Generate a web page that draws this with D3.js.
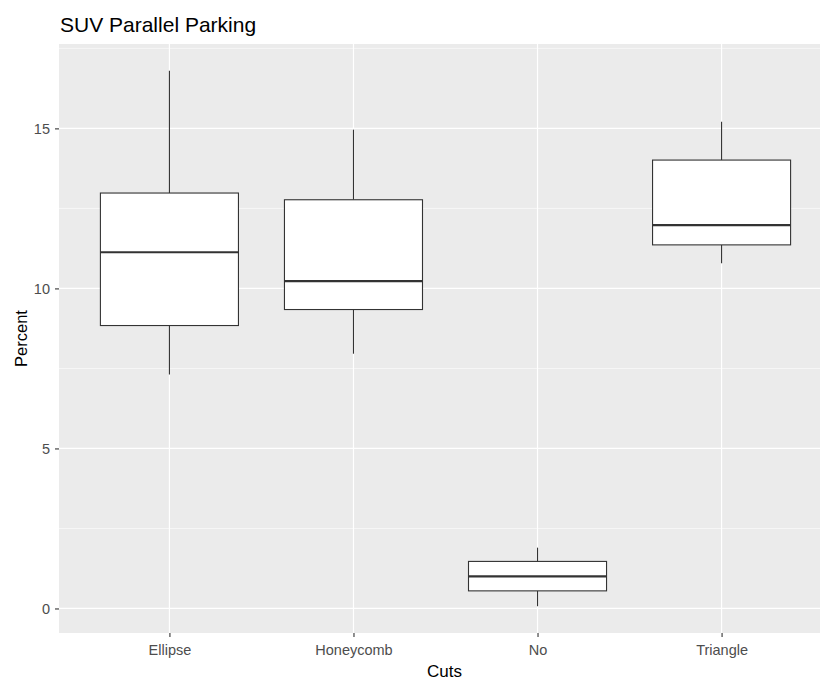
<!DOCTYPE html>
<html>
<head>
<meta charset="utf-8">
<script src="https://cdn.jsdelivr.net/npm/d3@7"></script>
<style>
  html, body { margin: 0; padding: 0; background: #ffffff; }
  svg { display: block; font-family: "Liberation Sans", Arial, sans-serif; }
</style>
</head>
<body>
<svg id="chart" width="820" height="683"></svg>
<script>
// Box-plot summary per cut type (percent)
const categories = ["Ellipse", "Honeycomb", "No", "Triangle"];
const whiskerLow  = [7.31, 7.96, 0.07, 10.79];
const q1          = [8.84, 9.34, 0.55, 11.36];
const median      = [11.13, 10.23, 1.00, 11.98];
const q3          = [12.98, 12.77, 1.47, 14.01];
const whiskerHigh = [16.80, 14.96, 1.90, 15.21];
const yTicks = [0, 5, 10, 15];
const yMinorTicks = [2.5, 7.5, 12.5, 17.5];

const rows = categories.map((c, i) => ({
  cat: c, lo: whiskerLow[i], q1: q1[i], med: median[i], q3: q3[i], hi: whiskerHigh[i]
}));

const svg = d3.select("#chart");
const panel = { left: 59, right: 832, top: 44, bottom: 633 };

// y domain with 5% expansion of the data range
const yMin = d3.min(whiskerLow), yMax = d3.max(whiskerHigh);
const pad = (yMax - yMin) * 0.05;
const y = d3.scaleLinear().domain([yMin - pad, yMax + pad]).range([panel.bottom, panel.top]);
const x = d3.scalePoint().domain(categories).range([panel.left, panel.right]).padding(0.6);
const boxW = x.step() * 0.75;

// panel background
svg.append("rect")
  .attr("x", panel.left).attr("y", panel.top)
  .attr("width", panel.right - panel.left).attr("height", panel.bottom - panel.top)
  .attr("fill", "#EBEBEB");

const grid = svg.append("g");
grid.selectAll("line.minor").data(yMinorTicks.filter(v => y(v) >= panel.top)).join("line")
  .attr("class", "minor")
  .attr("x1", panel.left).attr("x2", panel.right)
  .attr("y1", d => y(d)).attr("y2", d => y(d))
  .attr("stroke", "#ffffff").attr("stroke-width", 0.6);
grid.selectAll("line.major").data(yTicks).join("line")
  .attr("class", "major")
  .attr("x1", panel.left).attr("x2", panel.right)
  .attr("y1", d => y(d)).attr("y2", d => y(d))
  .attr("stroke", "#ffffff").attr("stroke-width", 1.2);
grid.selectAll("line.vert").data(categories).join("line")
  .attr("class", "vert")
  .attr("x1", d => x(d)).attr("x2", d => x(d))
  .attr("y1", panel.top).attr("y2", panel.bottom)
  .attr("stroke", "#ffffff").attr("stroke-width", 1.2);

// boxes
const boxes = svg.append("g").selectAll("g").data(rows).join("g");
boxes.append("line")
  .attr("x1", d => x(d.cat)).attr("x2", d => x(d.cat))
  .attr("y1", d => y(d.hi)).attr("y2", d => y(d.q3))
  .attr("stroke", "#333333").attr("stroke-width", 1.1);
boxes.append("line")
  .attr("x1", d => x(d.cat)).attr("x2", d => x(d.cat))
  .attr("y1", d => y(d.q1)).attr("y2", d => y(d.lo))
  .attr("stroke", "#333333").attr("stroke-width", 1.1);
boxes.append("rect")
  .attr("x", d => x(d.cat) - boxW / 2).attr("width", boxW)
  .attr("y", d => y(d.q3)).attr("height", d => y(d.q1) - y(d.q3))
  .attr("fill", "#ffffff").attr("stroke", "#333333").attr("stroke-width", 1.1);
boxes.append("line")
  .attr("x1", d => x(d.cat) - boxW / 2).attr("x2", d => x(d.cat) + boxW / 2)
  .attr("y1", d => y(d.med)).attr("y2", d => y(d.med))
  .attr("stroke", "#333333").attr("stroke-width", 2.2);

// axes
const yAxis = svg.append("g")
  .attr("transform", `translate(${panel.left},0)`)
  .call(d3.axisLeft(y).tickValues(yTicks).tickSize(4).tickPadding(5).tickFormat(d3.format("d")));
yAxis.select(".domain").remove();
yAxis.selectAll(".tick line").attr("stroke", "#333333").attr("stroke-width", 1.1);
yAxis.selectAll(".tick text").attr("fill", "#4D4D4D").style("font-size", "14.5px");

const xAxis = svg.append("g")
  .attr("transform", `translate(0,${panel.bottom})`)
  .call(d3.axisBottom(x).tickSize(4).tickPadding(8));
xAxis.select(".domain").remove();
xAxis.selectAll(".tick line").attr("stroke", "#333333").attr("stroke-width", 1.1);
xAxis.selectAll(".tick text").attr("fill", "#4D4D4D").style("font-size", "14.5px");

// titles
svg.append("text")
  .attr("x", 60).attr("y", 32)
  .attr("fill", "#000000").style("font-size", "21px")
  .text("SUV Parallel Parking");
svg.append("text")
  .attr("x", (panel.left + 820) / 2 + 5).attr("y", 677)
  .attr("text-anchor", "middle").attr("fill", "#000000").style("font-size", "17px")
  .text("Cuts");
svg.append("text")
  .attr("transform", `translate(27,${(panel.top + panel.bottom) / 2}) rotate(-90)`)
  .attr("text-anchor", "middle").attr("fill", "#000000").style("font-size", "16.5px")
  .text("Percent");
</script>
</body>
</html>
